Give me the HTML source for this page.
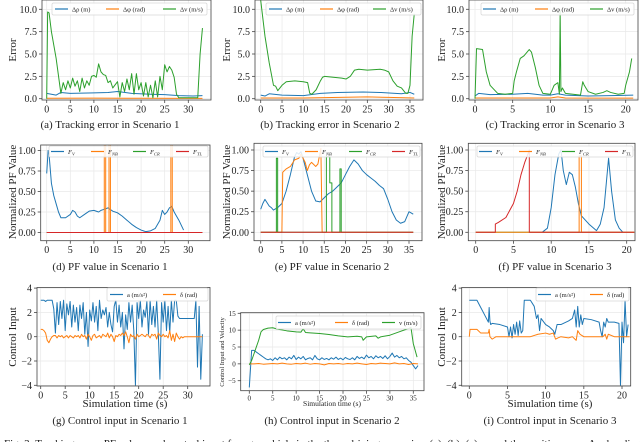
<!DOCTYPE html>
<html><head><meta charset="utf-8"><style>
html,body{margin:0;padding:0;background:#fff;}
svg{display:block;font-family:"Liberation Serif",serif;}
</style></head><body>
<svg id="fig" width="640" height="442" viewBox="0 0 640 442">
<rect x="0" y="0" width="640" height="442" fill="#fff"/>
<g font-size="11" fill="#222" text-anchor="middle">
<text x="110" y="128">(a) Tracking error in Scenario 1</text>
<text x="330" y="128">(b) Tracking error in Scenario 2</text>
<text x="555" y="128">(c) Tracking error in Scenario 3</text>
<text x="110" y="270">(d) PF value in Scenario 1</text>
<text x="332" y="270">(e) PF value in Scenario 2</text>
<text x="555" y="270">(f) PF value in Scenario 3</text>
<text x="120" y="424">(g) Control input in Scenario 1</text>
<text x="332" y="424">(h) Control input in Scenario 2</text>
<text x="550" y="424">(i) Control input in Scenario 3</text>
<text x="125" y="407">Simulation time (s)</text>
<text x="550" y="407">Simulation time (s)</text>
<text x="332" y="406" font-size="7.5">Simulation time (s)</text>
<text transform="translate(16,50) rotate(-90)">Error</text>
<text transform="translate(230,50) rotate(-90)">Error</text>
<text transform="translate(445,50) rotate(-90)">Error</text>
<text transform="translate(16,192) rotate(-90)">Normalized PF Value</text>
<text transform="translate(230,192) rotate(-90)">Normalized PF Value</text>
<text transform="translate(445,192) rotate(-90)">Normalized PF Value</text>
<text transform="translate(16,337) rotate(-90)">Control Input</text>
<text transform="translate(224,352) rotate(-90)" font-size="6.5">Control Input and Velocity</text>
<text transform="translate(445,337) rotate(-90)">Control Input</text>
</g>
<text x="4" y="447" font-size="11" fill="#222">Fig. 3:   Tracking error, PF values and control input for ego vehicle in the three driving scenarios. (a), (b), (c) reveal the position error Δρ, heading</text>
</svg>
<script>
// ---------- data: scenario 1 ----------
const aRhoT=[0,2,3,5,10,13,15,18,22,25,28,31,33];
const aRhoV=[0.6,0.4,0.7,0.6,0.65,0.7,0.8,0.6,0.5,0.45,0.35,0.3,0.35];
const aPhiT=[0,10,20,33];
const aPhiV=[0.05,0.06,0.05,0.04];
const aVelT=[0,0.2,0.5,1,2,3,3.5,4,4.5,5,5.5,6,6.5,7,7.5,8,8.5,9,9.5,10,10.5,11,11.5,12,12.5,13,13.5,14,15,15.5,16,16.5,17,17.5,18,18.5,19,19.5,20,20.5,21,21.5,22,22.5,23,23.5,24,24.5,25,25.5,26,26.5,27,27.5,28,29,30,31,32,32.5,33];
const aVelV=[0,9.7,9.6,7.5,4.5,0.6,1.8,1.0,2.0,1.2,2.3,1.4,2.0,0.8,2.3,1.2,2.0,1.5,2.5,2.6,2.4,3.9,3.0,2.7,2.6,1.8,2.0,1.2,1.9,0.2,1.8,0.8,2.2,1.0,2.8,0.5,2.8,1.0,1.8,0.3,1.8,0.2,1.5,0.1,2.0,0.2,2.5,1.0,3.8,3.0,3.6,3.2,2.4,0.5,0.1,0.1,0.1,0.1,0.1,5.0,7.9];
// ---------- scenario 2 ----------
const bRhoT=[0,1,2,5,10,14,18,24,28,33,35,36];
const bRhoV=[0.4,0.3,0.55,0.4,0.35,0.6,0.7,0.75,0.7,0.55,0.7,0.5];
const bPhiT=[0,10,15,25,30,36];
const bPhiV=[0.08,0.08,0.12,0.2,0.15,0.08];
const bVelT=[0,0.5,1,2,3,3.5,4,5,6,8,10,11,11.5,12,13,14,14.5,15,17,19,20,21,22,23,25,28,29,30,31,32,33,34,34.5,35,35.5,36];
const bVelV=[11,9,7,4,1.5,1.4,0.9,1.5,1.9,2.0,1.9,1.8,0.6,0.5,1.0,2.0,2.4,2.5,2.4,2.3,2.2,2.5,3.2,3.3,3.2,3.3,3.2,3.0,2.0,1.4,1.2,0.6,0.6,1.5,7,9.5];
// ---------- scenario 3 ----------
const cRhoT=[0,0.5,2,5,7,9,10,11,12,15,18,21];
const cRhoV=[0.3,0.6,0.45,0.5,0.6,0.4,0.4,0.55,0.4,0.3,0.35,0.4];
const cPhiT=[0,10,11,12,21];
const cPhiV=[0.08,0.08,0.2,0.08,0.06];
const cVelT=[0,0.2,1,1.5,2,3,4,5,5.2,5.5,6,6.5,7,7.2,7.5,8,8.5,9,10,10.5,11,11.2,11.3,11.4,11.6,12,13,14,14.3,14.5,15,16,17,17.5,18,19,19.8,20,20.5,20.8];
const cVelV=[0,5.6,5.5,3,1.5,0.6,0.5,0.6,2.0,3.0,4.5,4.8,5.3,5.5,5.2,3.5,1.5,0.6,0.5,1.5,1.8,0.5,9.8,0.8,1.2,0.6,0.5,0.4,1.9,1.5,0.8,0.5,0.7,0.9,0.7,0.5,0.6,1.5,3.0,4.5];
// ---------- PF scenario 1 ----------
const dFvT=[0,0.3,0.5,1,1.5,2,2.5,3,4,5,5.5,6,6.5,7,8,9,10,11,11.5,12,13,14,14.5,15,16,17,18,19,20,20.5,21,22,23,24,24.5,25,25.5,26,26.5,27,28,29];
const dFvV=[0.72,1.0,0.95,0.6,0.45,0.35,0.25,0.18,0.18,0.22,0.27,0.25,0.2,0.18,0.22,0.26,0.27,0.25,0.27,0.28,0.3,0.26,0.25,0.24,0.2,0.15,0.1,0.06,0.03,0.02,0.01,0.02,0.05,0.15,0.27,0.22,0.25,0.3,0.32,0.25,0.15,0.03];
const dFnbT=[0,12.2,12.2,12.5,12.5,13.2,13.2,13.5,13.5,26.3,26.3,26.6,26.6,33];
const dFnbV=[0,0,1.1,1.1,0,0,1.1,1.1,0,0,1.1,1.1,0,0];
const dFcrT=[0,33];
const dFcrV=[0,0];
const dFtlT=[0,33];
const dFtlV=[0,0];
// ---------- PF scenario 2 ----------
const eFvT=[0,0.5,1,2,2.5,3,4,5,6,7,8,8.5,9,9.5,10,11,12,13,14,15,16,17,18,19,20,21,22,23,24,25,26,27,28,29,30,31,32,33,34,35,36];
const eFvV=[0.28,0.35,0.4,0.32,0.3,0.27,0.3,0.35,0.5,0.7,0.92,0.97,0.95,0.98,0.9,0.7,0.5,0.38,0.37,0.42,0.47,0.5,0.55,0.6,0.7,0.8,0.88,0.83,0.75,0.7,0.66,0.62,0.57,0.53,0.4,0.25,0.15,0.11,0.13,0.25,0.22];
const eFnbT=[0,5,5.2,6,7,8,9,9.5,10,10.5,11,11.5,12,13,13.5,14.2,14.5,36];
const eFnbV=[0,0,0.73,0.77,0.8,0.88,0.9,0.95,0.9,0.85,0.75,0.82,0.85,0.8,0.83,1.02,0,0];
const eFcrT=[0,3.7,3.7,4,4,15.5,15.5,16.3,16.3,16.8,16.8,18.7,18.7,19,19,36];
const eFcrV=[0,0,0.9,0.9,0,0,0.92,0.92,0.6,0.6,0,0,0.77,0.77,0,0];
const eFtlT=[0,36];
const eFtlV=[0,0];
// ---------- PF scenario 3 ----------
const fFvT=[8.8,9.5,10,10.5,11,11.3,11.6,12,12.4,12.8,13.2,13.6,14,15,15.5,16,16.5,17,17.3,17.6,18,18.5,19,19.5];
const fFvV=[0,0.05,0.3,0.7,0.95,1.0,0.75,0.58,0.73,0.7,0.55,0.35,0.2,0.1,0.06,0.02,0.1,0.3,0.6,0.9,0.5,0.15,0.05,0];
const fFnbT=[0,13.7,13.7,14,14,21];
const fFnbV=[0,0,0.93,0.93,0,0];
const fFcrT=[0,21];
const fFcrV=[0,0];
const fFtlT=[0,2.6,2.6,3,4,5,5.5,6,6.5,7,7.1,7.1,21];
const fFtlV=[0,0,0.1,0.12,0.18,0.35,0.5,0.7,0.85,0.97,1.0,0,0];
// ---------- control scenario 1 (uniform sampling over 0..33 s) ----------
const G_TMAX=33;
const gAccV=[3,3,3,2.9,3,3,3,3,2.3,
0.3,2.8,1,2.9,1.5,3, 0.5,2.7,1.8,2.9,0.8,2.6, 1.2,2.4,0.5,2.6,1.5,2.8, 0.2,2,-0.8,2.2,1.3,2.8,
1.2,2.5,0.5,3,1.5,2.2, 1.8,2.4,0.8,2,1,0.4, 2.5,3,1.2,2.6,0.8,2, -1,1.8,0.6,2.8,1.2,2.6,
0.5,-4,2.8,1.5,3,0.8, 2.2,1.6,2.9,0.2,3,1, 2.5,0.8,3,0.3,-3.5,2.8, 1.2,3,0.5,2.5,0.3,3,
1.2,3,3,1.7,1.5,1.5, 1.5,1.5,1.5,1.5,1.5,1.5, 1.5,1.5,3,-2.5,2.5,-3.5,0.2];
const gSteerV=[0.6,0.6,0.5,0.3,-0.3,-0.5,-0.2,0,0.1,
0.1,-0.1,0.1,0,0.1,-0.1, 0,0.1,-0.1,0.1,0,-0.1, 0.1,0,0.1,-0.1,0.2,0, 0.1,-0.2,0.2,0,-0.3,0.1,
0.2,-0.1,0,0.1,-0.1,0.2, 0.1,0,0.3,-0.1,0.2,0, -0.4,0.1,0,0.2,0.1,0.3, 0.1,0.4,0,-0.5,0.2,0,
0.1,-0.2,0.2,0,0.1,0.2, 0.1,0,0.2,0.1,-0.1,0.2, 0.1,0.2,-0.2,0.3,0.1,0, 0.2,0,0.1,-0.1,0.5,-0.3,
0.2,-0.4,0.3,0,-0.2,0, -0.1,0,0,0,0,0, 0,0,0,0,0,0,0];
// ---------- control scenario 2 (uniform sampling over 0..36 s) ----------
const H_TMAX=36;
const hAccV=[-7,4,4,3.5,3,2.5,2,1.5,1.2,1.5,1,1.8,1.2,2,1.5,1.8,1.2,2,1.5,2.5,1.3,2,1.5,2.2,1.2,1.6,1.8,1.2,2.5,1.5,1.2,1.8,1.3,1.6,1.2,1.8,1.4,2,1.3,1.7,1.2,1.9,1.5,1.3,1.8,1.2,2.2,1.6,2,1.5,2.6,1.8,2.2,1.5,2.4,1.8,2.2,1.6,2.4,1.5,2.2,3.2,2,2.5,1.8,2.2,1.5,1.8,1,0.5,-0.5,-1.5,-0.5];
const hSteerV=[0,0,0.1,-0.1,0,0.1,0,0.2,0,-0.1,0.1,0,0.2,-0.1,0.1,0,-0.3,0.1,0,0.1,-0.1,0.1,0,0.2,0,-0.2,0.1,0,0.2,0.1,0,0.3,0,0.1,-0.2,0.1,0];
const hVelT=[0,0.5,1,2,2.5,3,4,5,6,8,10,11,11.5,12,13,15,17,19,21,23,24,24.3,25,27,27.5,28,30,32,34,34.5,35,35.8];
const hVelV=[-0.3,1,3,7,9.5,10.2,10.6,10.7,10.3,9.8,9.5,9.4,10.4,9.3,9.2,9.0,8.7,8.3,8.0,8.2,8.0,7.0,8.0,8.3,7.6,8.0,8.5,9.5,10.5,10.8,6,2];
// ---------- control scenario 3 ----------
const iAccT=[0,1,1.5,2,2.5,2.6,2.7,2.8,3,4,5,5.2,5.4,5.6,5.8,6,6.2,6.4,6.6,6.8,7,7.2,8,8.5,8.8,9,9.2,9.4,10,10.5,11,11.2,11.5,12,13,13.5,13.8,14,14.2,14.4,14.6,14.8,15,16,17,17.2,17.4,17.6,17.8,18,18.2,19,19.6,19.8,20,20.2,20.4,20.6,20.8];
const iAccV=[3,3,2.4,1.8,1.2,2.4,1.3,1,1.1,1,0.8,0,0.8,-0.1,1,0.2,1.2,0.1,1.3,0.3,0.5,3,3,2.5,1.5,1.8,0.5,1.5,1,0.8,0.5,0.2,1,1,1.3,1.5,2.2,0.8,2.5,0.8,1.8,1,1.5,1.4,1.2,0.5,0,1.2,0.8,1.5,1.2,1.2,1.1,-4,1.2,-0.5,3,0,1];
const iSteerT=[0,0.1,1,1.5,2.5,2.6,2.7,3,3.5,5,7,8,9,10,10.5,11,11.3,11.6,12,13,13.5,14,14.2,14.5,15,17,17.5,17.8,18,18.2,19,21];
const iSteerV=[0,0.6,0.6,0.3,0.3,0.6,0,-0.2,0,0,0,0,0.2,0.3,0.2,0.3,-0.2,-0.1,0,-0.1,0,-0.3,0.5,0.2,0,0,0,0.2,-0.2,0.2,0,0];
// ---------- tick labels ----------
const errTicks=[0,2.5,5,7.5,10];
const errTickLabels=["0.0","2.5","5.0","7.5","10.0"];
const pfTicks=[0,0.25,0.5,0.75,1];
const pfTickLabels=["0.00","0.25","0.50","0.75","1.00"];
const ctlTicks=[-4,-2,0,2,4];
const ctlTickLabels=["−4","−2","0","2","4"];
const velTicks=[-5,0,5,10,15];
const velTickLabels=["−5","0","5","10","15"];
const t30=[0,5,10,15,20,25,30];
const t35=[0,5,10,15,20,25,30,35];
const t20=[0,5,10,15,20];

const BLUE='#1f77b4',ORANGE='#ff7f0e',GREEN='#2ca02c',RED='#d62728';
const NS='http://www.w3.org/2000/svg';
const svg=document.getElementById('fig');
function mk(tag,attrs,parent){const e=document.createElementNS(NS,tag);for(const k in attrs)e.setAttribute(k,attrs[k]);parent.appendChild(e);return e;}
function uni(vals,tmax){return vals.map((_,i)=>i*tmax/(vals.length-1));}

const errLeg=[{c:BLUE,t:'Δρ (m)'},{c:ORANGE,t:'Δφ (rad)'},{c:GREEN,t:'Δv (m/s)'}];
const pfLeg=[{c:BLUE,f:'V'},{c:ORANGE,f:'NB'},{c:GREEN,f:'CR'},{c:RED,f:'TL'}];
const ctlLeg=[{c:BLUE,t:'a (m/s²)'},{c:ORANGE,t:'δ (rad)'}];

const panels=[
 {id:'a',box:[42,0,211,100],xm:[0,46.7,30,188.3],ym:[0,98.7,10,9.3],xt:t30,yt:errTicks,yl:errTickLabels,fs:10,
  s:[[aRhoT,aRhoV,BLUE],[aPhiT,aPhiV,ORANGE],[aVelT,aVelV,GREEN]],leg:errLeg,lb:[52,3,207,15],lx:[55,106,163]},
 {id:'b',box:[255,0,423,100],xm:[0,260.7,35,410],ym:[0,98.7,10,9.3],xt:t35,yt:errTicks,yl:errTickLabels,fs:10,
  s:[[bRhoT,bRhoV,BLUE],[bPhiT,bPhiV,ORANGE],[bVelT,bVelV,GREEN]],leg:errLeg,lb:[266,3,421,15],lx:[269,320,373]},
 {id:'c',box:[469,0,638,100],xm:[0,475,20,625.7],ym:[0,98.7,10,9.3],xt:t20,yt:errTicks,yl:errTickLabels,fs:10,
  s:[[cRhoT,cRhoV,BLUE],[cPhiT,cPhiV,ORANGE],[cVelT,cVelV,GREEN]],leg:errLeg,lb:[481,3,634,15],lx:[483,535,590]},
 {id:'d',box:[40.7,145,210,240.7],xm:[0,46.7,30,188.3],ym:[0,232.5,1,150.5],xt:t30,yt:pfTicks,yl:pfTickLabels,fs:10,
  s:[[dFvT,dFvV,BLUE],[dFnbT,dFnbV,ORANGE],[dFcrT,dFcrV,GREEN],[dFtlT,dFtlV,RED]],leg:pfLeg,lb:[49,146,208,157],lx:[51,91,133,176]},
 {id:'e',box:[254,143.3,422,240.7],xm:[0,260.7,35,409],ym:[0,232.3,1,150],xt:t35,yt:pfTicks,yl:pfTickLabels,fs:10,
  s:[[eFvT,eFvV,BLUE],[eFnbT,eFnbV,ORANGE],[eFcrT,eFcrV,GREEN],[eFtlT,eFtlV,RED]],leg:pfLeg,lb:[263,146,420,157],lx:[265,305,349,392]},
 {id:'f',box:[468.3,143.3,635,240.7],xm:[0,475.7,20,626.7],ym:[0,232.3,1,150],xt:t20,yt:pfTicks,yl:pfTickLabels,fs:10,
  s:[[fFcrT,fFcrV,GREEN],[fFvT,fFvV,BLUE],[fFnbT,fFnbV,ORANGE],[fFtlT,fFtlV,RED]],leg:pfLeg,lb:[477,146,633,157],lx:[479,519,562,605]},
 {id:'g',box:[37,287.5,210,386],xm:[0,40.7,30,187.7],ym:[0,336.7,-4,385.3],xt:t30,yt:ctlTicks,yl:ctlTickLabels,fs:10,
  s:[[uni(gAccV,G_TMAX),gAccV,BLUE],[uni(gSteerV,G_TMAX),gSteerV,ORANGE]],leg:ctlLeg,lb:[107,288,208,301],lx:[110,163]},
 {id:'h',box:[240.7,312.7,424,390.7],xm:[0,249.3,35,413.3],ym:[15,313.3,-5,380.7],xt:t35,yt:velTicks,yl:velTickLabels,fs:7,
  s:[[uni(hAccV,H_TMAX),hAccV,BLUE],[uni(hSteerV,H_TMAX),hSteerV,ORANGE],[hVelT,hVelV,GREEN]],
  leg:[{c:BLUE,t:'a (m/s²)'},{c:ORANGE,t:'δ (rad)'},{c:GREEN,t:'v (m/s)'}],lb:[276,316,421,329],lx:[278,335,382]},
 {id:'i',box:[461.7,287.5,630.7,386],xm:[0,469.3,20,622],ym:[0,336.7,-4,385.3],xt:t20,yt:ctlTicks,yl:ctlTickLabels,fs:10,
  s:[[iAccT,iAccV,BLUE],[iSteerT,iSteerV,ORANGE]],leg:ctlLeg,lb:[536,288,629,301],lx:[538,590]}
];

panels.forEach(p=>{
  const [x0,y0,x1,y1]=p.box;
  const sx=t=>p.xm[1]+(t-p.xm[0])*(p.xm[3]-p.xm[1])/(p.xm[2]-p.xm[0]);
  const sy=v=>p.ym[1]+(v-p.ym[0])*(p.ym[3]-p.ym[1])/(p.ym[2]-p.ym[0]);
  const g=mk('g',{},svg);
  
  
  const cp=mk('clipPath',{id:'clip-'+p.id},g);
  mk('rect',{x:x0,y:y0,width:x1-x0,height:y1-y0},cp);
  p.xt.forEach(t=>{
    const l=mk('line',{x1:sx(t),x2:sx(t),y1:y0,y2:y1,stroke:'#e8e8e8','stroke-width':0.7},g);
    
    
  });
  p.yt.forEach(v=>{
    const l=mk('line',{x1:x0,x2:x1,y1:sy(v),y2:sy(v),stroke:'#e8e8e8','stroke-width':0.7},g);
    
    
  });
  const sg=mk('g',{'clip-path':'url(#clip-'+p.id+')'},g);
  p.s.forEach((s,k)=>{
    const n=Math.min(s[0].length,s[1].length);
    const pts=[];
    for(let i=0;i<n;i++)pts.push(sx(s[0][i]).toFixed(2)+','+sy(s[1][i]).toFixed(2));
    const pl=mk('polyline',{points:pts.join(' '),fill:'none',stroke:s[2],'stroke-width':1,'stroke-linejoin':'round'},sg);
    
    
  });
  const fr=mk('rect',{x:x0,y:y0,width:x1-x0,height:y1-y0,fill:'none',stroke:'#444','stroke-width':0.8},g);
  
  
  p.xt.forEach(t=>{
    mk('line',{x1:sx(t),x2:sx(t),y1:y1,y2:y1+3,stroke:'#444','stroke-width':0.8},g);
    const tx=mk('text',{x:sx(t),y:y1+3+p.fs*0.95,'font-size':p.fs,'text-anchor':'middle',fill:'#222'},g);
    tx.textContent=String(t);
    
    
  });
  p.yt.forEach((v,i)=>{
    mk('line',{x1:x0-3,x2:x0,y1:sy(v),y2:sy(v),stroke:'#444','stroke-width':0.8},g);
    const tx=mk('text',{x:x0-5,y:sy(v)+p.fs*0.35,'font-size':p.fs,'text-anchor':'end',fill:'#222'},g);
    tx.textContent=p.yl[i];
    
    
  });
  const lg=mk('g',{},g);
  
  
  const [lx0,ly0,lx1,ly1]=p.lb;
  mk('rect',{x:lx0,y:ly0,width:lx1-lx0,height:ly1-ly0,rx:1.5,fill:'#fff','fill-opacity':0.85,stroke:'#d6d6d6','stroke-width':0.7},lg);
  const ym=(ly0+ly1)/2;
  p.leg.forEach((e,k)=>{
    const lx=p.lx[k];
    const ln=mk('line',{x1:lx,x2:lx+13,y1:ym,y2:ym,stroke:e.c,'stroke-width':1.2},lg);
    
    
    const tx=mk('text',{x:lx+17,y:ym+2.3,'font-size':6.5,fill:'#222'},lg);
    if(e.f){
      const a=mk('tspan',{'font-style':'italic'},tx);a.textContent='F';
      const b=mk('tspan',{'font-size':4.5,dy:1.5,'font-style':'italic'},tx);b.textContent=e.f;
    }else{
      tx.textContent=e.t;
    }
    
    
  });
});
</script>
</body></html>
